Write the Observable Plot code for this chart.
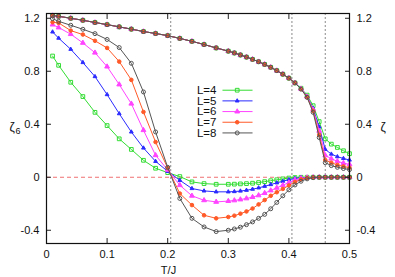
<!DOCTYPE html>
<html><head><meta charset="utf-8">
<script src="https://cdn.jsdelivr.net/npm/d3@7"></script>
<script src="https://cdn.jsdelivr.net/npm/@observablehq/plot@0.6"></script>
<style>body{margin:0;background:#fff;font-family:"Liberation Sans",Arial,sans-serif}#chart svg{display:block}</style>
</head><body><div id="chart"></div>
<script>
const T = [0.01,0.02,0.04,0.06,0.08,0.10,0.12,0.14,0.16,0.18,0.20,0.22,0.24,0.26,0.28,0.30,0.31,0.32,0.33,0.34,0.35,0.36,0.37,0.38,0.39,0.40,0.41,0.42,0.43,0.44,0.45,0.46,0.47,0.48,0.49,0.50];
const seriesNames = ["L=4","L=5","L=6","L=7","L=8"];
const seriesColors = ["#33dd33","#2b2bff","#ff44ff","#ff5a28","#555555"];
const zeta6_L4 = [0.915,0.845,0.717,0.609,0.49,0.39,0.29,0.21,0.128,0.068,0.035,0.005,-0.035,-0.048,-0.053,-0.053,-0.052,-0.05,-0.048,-0.045,-0.04,-0.033,-0.026,-0.019,-0.012,-0.006,-0.002,0,0,0,0,0,0,0,0,0];
const zeta6_L5 = [1.097,1.05,0.966,0.866,0.76,0.624,0.48,0.342,0.221,0.12,0.045,-0.023,-0.085,-0.103,-0.11,-0.11,-0.108,-0.104,-0.098,-0.09,-0.08,-0.068,-0.055,-0.042,-0.03,-0.018,-0.009,-0.003,-0.001,0,0,0,0,0,0,0];
const zeta6_L6 = [1.152,1.13,1.08,1.014,0.94,0.835,0.70,0.555,0.355,0.166,0.055,-0.06,-0.14,-0.174,-0.186,-0.18,-0.175,-0.168,-0.16,-0.15,-0.137,-0.12,-0.1,-0.08,-0.06,-0.04,-0.02,-0.008,-0.002,0,0,0,0,0,0,0];
const zeta6_L7 = [1.17,1.165,1.107,1.077,1.03,0.976,0.873,0.735,0.493,0.266,0.07,-0.123,-0.21,-0.287,-0.31,-0.30,-0.29,-0.275,-0.258,-0.236,-0.205,-0.172,-0.14,-0.113,-0.088,-0.062,-0.036,-0.016,-0.005,-0.001,0,0,0,0,0,0];
const zeta6_L8 = [1.197,1.177,1.147,1.117,1.084,1.04,0.979,0.86,0.644,0.342,0.075,-0.16,-0.31,-0.375,-0.41,-0.40,-0.39,-0.377,-0.358,-0.337,-0.31,-0.28,-0.238,-0.19,-0.14,-0.095,-0.058,-0.03,-0.012,-0.003,0,0,0,0,0,0];
const zeta_L4 = [1.22,1.215,1.20,1.185,1.168,1.152,1.135,1.118,1.10,1.085,1.069,1.048,1.026,1.002,0.976,0.952,0.938,0.923,0.907,0.89,0.872,0.852,0.83,0.805,0.778,0.748,0.712,0.672,0.62,0.54,0.42,0.29,0.25,0.225,0.20,0.178];
const zeta_L5 = [1.22,1.215,1.20,1.185,1.168,1.152,1.135,1.118,1.10,1.085,1.069,1.048,1.026,1.002,0.976,0.952,0.938,0.923,0.907,0.89,0.872,0.852,0.83,0.805,0.778,0.748,0.712,0.668,0.61,0.52,0.38,0.21,0.175,0.155,0.142,0.13];
const zeta_L6 = [1.22,1.215,1.20,1.185,1.168,1.152,1.135,1.118,1.10,1.085,1.069,1.048,1.026,1.002,0.976,0.952,0.938,0.923,0.907,0.89,0.872,0.852,0.83,0.805,0.778,0.748,0.712,0.667,0.608,0.51,0.35,0.165,0.14,0.12,0.107,0.097];
const zeta_L7 = [1.22,1.215,1.20,1.185,1.168,1.152,1.135,1.118,1.10,1.085,1.069,1.048,1.026,1.002,0.976,0.952,0.938,0.923,0.907,0.89,0.872,0.852,0.83,0.805,0.778,0.748,0.712,0.666,0.605,0.50,0.32,0.13,0.11,0.093,0.082,0.072];
const zeta_L8 = [1.22,1.215,1.20,1.185,1.168,1.152,1.135,1.118,1.10,1.085,1.069,1.048,1.026,1.002,0.976,0.952,0.938,0.923,0.907,0.89,0.872,0.852,0.83,0.805,0.778,0.748,0.712,0.665,0.603,0.49,0.30,0.11,0.088,0.075,0.066,0.058];
const criticalT = [0.205, 0.405, 0.46];
const zeroLine = [0];
const xTicks = [0, 0.1, 0.2, 0.3, 0.4, 0.5];
const yTicks = [-0.4, 0, 0.4, 0.8, 1.2];

const zeta6 = [zeta6_L4, zeta6_L5, zeta6_L6, zeta6_L7, zeta6_L8];
const zeta = [zeta_L4, zeta_L5, zeta_L6, zeta_L7, zeta_L8];
const symbols = ["square","triangle","triangle","circle","circle"];
const filled = [false,true,true,true,false];
const radii = [2.1,1.4,1.8,1.8,2.0];

const rows = [];
seriesNames.forEach((L, i) => {
  T.forEach((t, j) => {
    rows.push({T: t, v: zeta6[i][j], L, kind: "z6"});
    rows.push({T: t, v: zeta[i][j], L, kind: "z"});
  });
});

const marks = [
  Plot.ruleX(criticalT, {stroke: "#8a8a8a", strokeDasharray: "2,2", strokeWidth: 1}),
  Plot.ruleY(zeroLine, {stroke: "#f07070", strokeDasharray: "4,3", strokeWidth: 1})
];
seriesNames.forEach((L, i) => {
  const d = rows.filter(r => r.L === L);
  marks.push(Plot.line(d, {x: "T", y: "v", z: "kind", stroke: seriesColors[i], strokeWidth: 1}));
  marks.push(Plot.dot(d, {x: "T", y: "v", symbol: () => symbols[i], r: radii[i],
    stroke: seriesColors[i], fill: filled[i] ? seriesColors[i] : "none", strokeWidth: 1}));
});
// legend (layout positions in data units)
seriesNames.forEach((L, i) => {
  const yy = 0.657 - i * 0.0806;
  marks.push(Plot.text([L], {x: 0.2805, y: yy, text: d => d, textAnchor: "end", fontSize: 11.5, fill: "#111"}));
  marks.push(Plot.link([L], {x1: 0.2904, x2: 0.34, y1: yy, y2: yy, stroke: seriesColors[i], strokeWidth: 1}));
  marks.push(Plot.dot([L], {x: 0.3147, y: yy, symbol: () => symbols[i], r: radii[i],
    stroke: seriesColors[i], fill: filled[i] ? seriesColors[i] : "none", strokeWidth: 1}));
});
marks.push(
  Plot.axisX({anchor: "bottom", ticks: xTicks, tickSize: -5, tickPadding: 12, tickFormat: d => String(d), fontSize: 11, label: null, stroke: "#222"}),
  Plot.axisX({anchor: "top", ticks: xTicks.slice(1, -1), tickSize: -5, tickFormat: () => "", label: null, stroke: "#222"}),
  Plot.axisY({anchor: "left", ticks: yTicks, tickSize: -5, tickPadding: 12, tickFormat: d => String(d), fontSize: 11, label: null, stroke: "#222"}),
  Plot.axisY({anchor: "right", ticks: yTicks, tickSize: -5, tickPadding: 12, tickFormat: d => String(d), fontSize: 11, label: null, stroke: "#222"}),
  Plot.frame({stroke: "#111", strokeWidth: 1.2}),
  Plot.text(["ζ"], {frameAnchor: "left", dx: -37, dy: -1, text: d => d, fontSize: 12, textAnchor: "start"}),
  Plot.text(["6"], {frameAnchor: "left", dx: -31, dy: 3, text: d => d, fontSize: 9, textAnchor: "start"}),
  Plot.text(["ζ"], {frameAnchor: "right", dx: 31, dy: -1, text: d => d, fontSize: 12, textAnchor: "start"}),
  Plot.text(["T/J"], {frameAnchor: "bottom", dx: -29.5, dy: 30, text: d => d, fontSize: 11})
);

const chart = Plot.plot({
  width: 395,
  height: 277,
  marginLeft: 46,
  marginRight: 46,
  marginTop: 13,
  marginBottom: 34,
  style: {fontFamily: "'Liberation Sans', Arial, sans-serif", fontSize: "11px", color: "#111", background: "#fff"},
  x: {domain: [0, 0.5]},
  y: {domain: [-0.5, 1.236]},
  marks
});
document.getElementById("chart").appendChild(chart);
</script>
</body></html>
